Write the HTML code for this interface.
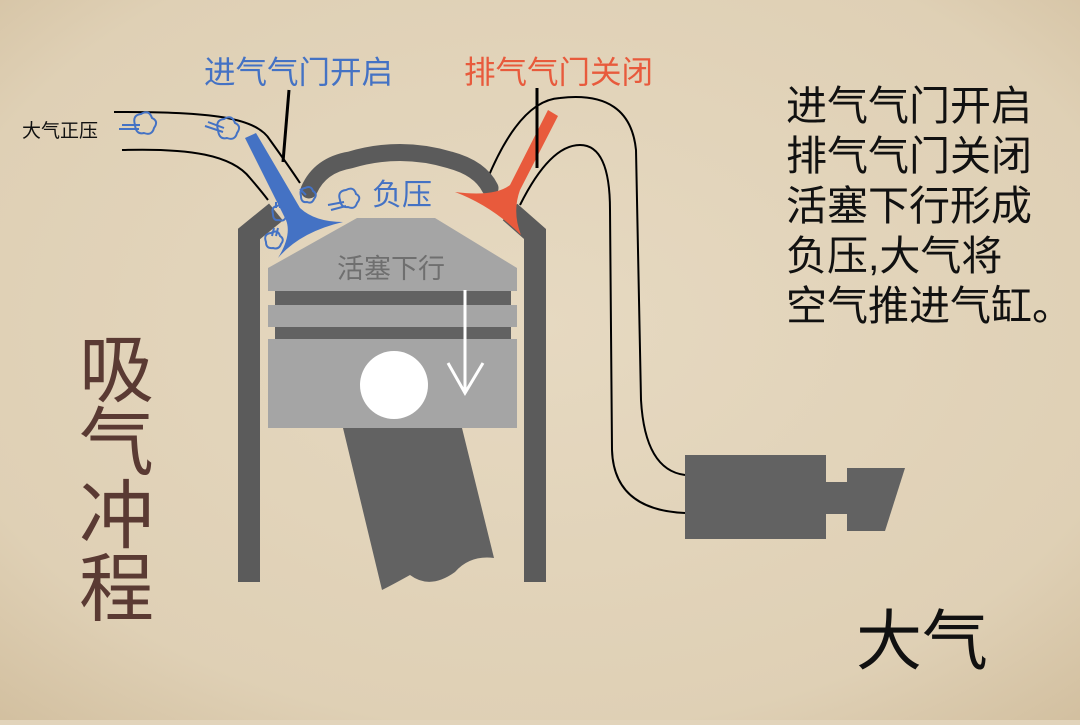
<!DOCTYPE html>
<html><head><meta charset="utf-8"><style>
html,body{margin:0;padding:0}
body{width:1080px;height:720px;overflow:hidden;background:#e2d4bb;font-family:"Liberation Sans","Noto Sans CJK SC",sans-serif}
</style></head><body>
<svg width="1080" height="720" viewBox="0 0 1080 720" xmlns="http://www.w3.org/2000/svg">
<defs>
<radialGradient id="bg" cx="50%" cy="45%" r="75%">
<stop offset="0" stop-color="#e6d9c1"/><stop offset="0.75" stop-color="#dfd0b5"/><stop offset="1" stop-color="#d2bf9f"/>
</radialGradient>
</defs>
<rect width="1080" height="720" fill="url(#bg)"/>

<!-- intake pipe lines -->
<path d="M114,112 C200,112 255,115 270,140 Q288,165 300,183" fill="none" stroke="#000" stroke-width="2"/>
<path d="M122,150 C190,148 232,155 250,178 Q262,192 268,200" fill="none" stroke="#000" stroke-width="2"/>
<!-- exhaust pipe lines -->
<path d="M487,180 Q520,100 560,98 Q630,90 636,150 L641,400 Q645,470 685,475" fill="none" stroke="#000" stroke-width="2"/>
<path d="M520,205 Q550,145 580,145 Q610,145 610,210 L612,450 Q614,510 685,513" fill="none" stroke="#000" stroke-width="2"/>

<!-- dome -->
<path d="M309,190 Q320,165 350,160 Q400,145 450,160 Q480,168 490,188" fill="none" stroke="#5b5b5b" stroke-width="17" stroke-linecap="round"/>
<!-- walls -->
<polyline points="249,582 249,234 276,212" fill="none" stroke="#5b5b5b" stroke-width="22"/>
<polyline points="535,582 535,234 510,212" fill="none" stroke="#5b5b5b" stroke-width="22"/>

<!-- rod -->
<path d="M343,428 L462,428 L494,558 Q470,555 455,572 Q430,590 410,575 Q392,585 382,590 Z" fill="#626262"/>
<!-- piston -->
<polygon points="357,218 435,218 517,268 517,291 268,291 268,268" fill="#a5a5a5"/>
<rect x="275" y="291" width="236" height="14" fill="#626262"/>
<rect x="268" y="305" width="249" height="22" fill="#a5a5a5"/>
<rect x="275" y="327" width="236" height="12" fill="#626262"/>
<rect x="268" y="339" width="249" height="89" fill="#a5a5a5"/>
<circle cx="394" cy="385" r="34" fill="#fff"/>
<path d="M465,290 L465,393 M448,363 L465,393 L483,363" fill="none" stroke="#fff" stroke-width="3"/>
<text x="337" y="278" font-size="27" fill="#6f6f6f">活塞下行</text>

<!-- valves -->
<path d="M245,138 L256,133 L300,208 Q315,222 343,222 Q300,232 278,258 Q292,235 286,220 Z" fill="#4472c4"/>
<path d="M548,110 L558,116 L520,190 Q512,212 521,235 Q492,206 455,192 Q495,197 510,185 Z" fill="#e85a3c"/>

<!-- label pointer lines -->
<line x1="289" y1="90" x2="283" y2="162" stroke="#000" stroke-width="3"/>
<line x1="537" y1="88" x2="537" y2="168" stroke="#000" stroke-width="3"/>

<!-- puffs -->
<g fill="none" stroke="#4472c4" stroke-width="2">
<path d="M135,125 q-3,-10 6,-11 q8,-5 11,4 q7,3 2,10 q-2,8 -10,5 q-8,2 -9,-8z"/><path d="M119,129 h20 M122,125 h18"/>
<path d="M218,130 q-3,-10 6,-11 q8,-5 11,4 q7,3 2,10 q-2,8 -10,5 q-8,2 -9,-8z"/><path d="M205,126 l18,6 M208,122 l16,6"/>
<path d="M301,196 q-2,-7 4,-8 q6,-3 8,3 q5,3 1,8 q-2,5 -7,3 q-6,1 -6,-6z"/><path d="M300,189 l6,6"/>
<path d="M340,200 q-3,-9 6,-10 q8,-4 10,4 q6,3 1,9 q-2,7 -9,4 q-7,1 -8,-7z"/><path d="M328,205 l16,-3 M331,210 l15,-4"/>
<path d="M273,214 q-2,-7 4,-8 q6,-3 8,3 q5,3 1,8 q-2,5 -7,3 q-6,1 -6,-6z"/><path d="M276,208 v-6 M280,208 v-6"/>
<path d="M266,242 q-3,-8 5,-9 q7,-4 9,3 q5,3 1,8 q-2,6 -8,4 q-7,1 -7,-6z"/><path d="M272,236 l2,-8 M276,236 l2,-8"/>
</g>

<!-- texts -->
<text x="204" y="83" font-size="31.5" fill="#4472c4">进气气门开启</text>
<text x="464" y="83" font-size="31.5" fill="#e85a3c">排气气门关闭</text>
<text x="22" y="137" font-size="19" fill="#111">大气正压</text>
<text x="372" y="205" font-size="30" fill="#4472c4">负压</text>
<g font-size="41" fill="#111">
<text x="786" y="120">进气气门开启</text>
<text x="786" y="170">排气气门关闭</text>
<text x="786" y="220">活塞下行形成</text>
<text x="786" y="270">负压,大气将</text>
<text x="786" y="320">空气推进气缸。</text>
</g>
<g font-size="75" fill="#5a3a33">
<text x="79" y="396">吸</text>
<text x="79" y="469">气</text>
<text x="79" y="542">冲</text>
<text x="79" y="615">程</text>
</g>
<text x="856" y="664" font-size="66" fill="#111">大气</text>

<!-- muffler -->
<rect x="685" y="455" width="141" height="84" fill="#626262"/>
<rect x="825" y="482" width="23" height="32" fill="#626262"/>
<polygon points="847,468 905,468 885,531 847,531" fill="#626262"/>
</svg>
</body></html>
